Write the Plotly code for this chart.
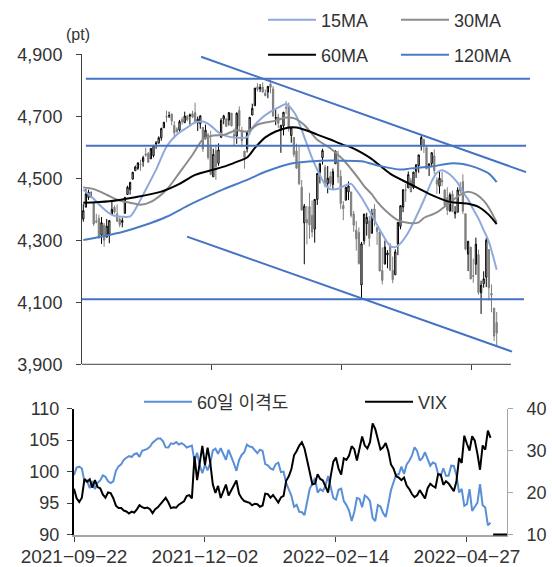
import plotly.graph_objects as go

# ---------------- data ----------------
dates = ["2021-09-22","2021-09-23","2021-09-24","2021-09-27","2021-09-28","2021-09-29","2021-09-30",
"2021-10-01","2021-10-04","2021-10-05","2021-10-06","2021-10-07","2021-10-08","2021-10-11","2021-10-12",
"2021-10-13","2021-10-14","2021-10-15","2021-10-18","2021-10-19","2021-10-20","2021-10-21","2021-10-22",
"2021-10-25","2021-10-26","2021-10-27","2021-10-28","2021-10-29","2021-11-01","2021-11-02","2021-11-03",
"2021-11-04","2021-11-05","2021-11-08","2021-11-09","2021-11-10","2021-11-11","2021-11-12","2021-11-15",
"2021-11-16","2021-11-17","2021-11-18","2021-11-19","2021-11-22","2021-11-23","2021-11-24","2021-11-26",
"2021-11-29","2021-11-30","2021-12-01","2021-12-02","2021-12-03","2021-12-06","2021-12-07","2021-12-08",
"2021-12-09","2021-12-10","2021-12-13","2021-12-14","2021-12-15","2021-12-16","2021-12-17","2021-12-20",
"2021-12-21","2021-12-22","2021-12-23","2021-12-27","2021-12-28","2021-12-29","2021-12-30","2021-12-31",
"2022-01-03","2022-01-04","2022-01-05","2022-01-06","2022-01-07","2022-01-10","2022-01-11","2022-01-12",
"2022-01-13","2022-01-14","2022-01-18","2022-01-19","2022-01-20","2022-01-21","2022-01-24","2022-01-25",
"2022-01-26","2022-01-27","2022-01-28","2022-01-31","2022-02-01","2022-02-02","2022-02-03","2022-02-04",
"2022-02-07","2022-02-08","2022-02-09","2022-02-10","2022-02-11","2022-02-14","2022-02-15","2022-02-16",
"2022-02-17","2022-02-18","2022-02-22","2022-02-23","2022-02-24","2022-02-25","2022-02-28","2022-03-01",
"2022-03-02","2022-03-03","2022-03-04","2022-03-07","2022-03-08","2022-03-09","2022-03-10","2022-03-11",
"2022-03-14","2022-03-15","2022-03-16","2022-03-17","2022-03-18","2022-03-21","2022-03-22","2022-03-23",
"2022-03-24","2022-03-25","2022-03-28","2022-03-29","2022-03-30","2022-03-31","2022-04-01","2022-04-04",
"2022-04-05","2022-04-06","2022-04-07","2022-04-08","2022-04-11","2022-04-12","2022-04-13","2022-04-14",
"2022-04-18","2022-04-19","2022-04-20","2022-04-21","2022-04-22","2022-04-25","2022-04-26","2022-04-27",
"2022-04-28","2022-04-29","2022-05-02","2022-05-03","2022-05-04","2022-05-05","2022-05-06","2022-05-09",
"2022-05-10"]

open_ = [4368.9,4406.8,4438.0,4442.1,4419.5,4362.4,4370.7,4317.2,4348.8,4309.9,4319.6,4383.7,4406.5,4385.4,4368.3,
4358.0,4386.8,4447.7,4463.7,4497.3,4524.4,4532.2,4546.1,4553.7,4578.7,4580.2,4562.8,4572.9,4610.6,4613.3,4630.7,
4662.9,4699.3,4701.5,4707.3,4670.3,4659.4,4655.2,4689.3,4679.4,4701.5,4700.7,4708.4,4712.0,4678.5,4675.8,4664.6,
4628.8,4640.2,4602.8,4504.7,4589.5,4548.4,4632.0,4690.9,4691.0,4687.6,4710.3,4642.0,4636.5,4719.1,4652.5,4587.9,
4595.0,4650.4,4704.0,4734.0,4795.5,4788.6,4794.2,4775.2,4778.1,4804.5,4788.0,4693.4,4697.7,4655.3,4669.1,4728.6,
4733.6,4638.0,4632.2,4588.0,4547.4,4471.4,4356.3,4366.6,4408.4,4380.6,4336.2,4431.8,4519.6,4566.4,4535.4,4482.8,
4505.8,4480.0,4547.0,4553.2,4506.3,4412.6,4429.3,4455.8,4456.1,4384.6,4332.7,4324.9,4155.8,4298.4,4354.2,4363.1,
4322.6,4401.3,4342.1,4327.0,4202.7,4223.1,4252.6,4279.5,4202.8,4188.8,4288.1,4345.1,4407.3,4462.4,4469.1,4493.1,
4470.0,4522.7,4541.1,4602.9,4624.2,4599.0,4540.3,4548.0,4572.5,4494.2,4474.7,4494.2,4462.6,4437.6,4394.3,4449.1,
4385.6,4390.6,4472.3,4489.2,4385.8,4255.3,4278.1,4186.5,4222.6,4253.8,4130.6,4159.8,4181.2,4270.4,4128.2,4081.3,
4035.2]

high = [4416.8,4465.4,4463.1,4457.3,4419.5,4385.6,4382.6,4375.2,4355.5,4369.2,4365.6,4429.0,4412.0,4415.9,4374.9,
4372.9,4439.7,4475.8,4488.8,4520.4,4540.9,4551.4,4559.7,4572.6,4598.5,4584.6,4597.6,4608.1,4620.3,4635.2,4663.5,
4683.0,4718.5,4714.9,4708.5,4684.9,4664.6,4688.5,4697.4,4714.9,4701.5,4708.8,4717.8,4743.8,4699.4,4702.9,4664.6,
4672.9,4646.0,4652.9,4595.5,4608.0,4612.6,4694.0,4705.1,4695.3,4713.6,4710.3,4660.5,4712.6,4732.0,4666.7,4587.9,
4651.1,4697.7,4740.7,4791.5,4807.0,4804.1,4808.9,4786.8,4796.6,4818.6,4797.7,4725.0,4708.0,4673.0,4714.1,4748.8,
4744.1,4665.1,4632.2,4611.6,4602.1,4494.5,4417.4,4411.0,4453.2,4428.7,4432.7,4516.9,4550.5,4595.3,4542.9,4539.7,
4521.9,4531.3,4590.0,4588.9,4526.3,4426.2,4472.8,4489.6,4456.1,4394.6,4362.1,4341.5,4294.7,4385.3,4388.8,4378.5,
4401.5,4416.8,4342.1,4327.0,4276.9,4299.4,4268.3,4291.0,4247.6,4271.1,4358.0,4412.7,4465.4,4481.8,4522.0,4501.1,
4520.6,4546.0,4575.7,4637.3,4627.8,4603.1,4548.7,4583.5,4593.5,4503.9,4521.2,4520.6,4464.3,4471.0,4453.9,4460.5,
4410.3,4471.0,4488.3,4512.9,4385.8,4299.0,4278.1,4240.7,4308.5,4269.7,4169.8,4200.1,4307.7,4270.4,4157.7,4081.3,
4068.8]

low = [4360.2,4406.8,4430.3,4436.2,4346.3,4355.1,4306.2,4288.5,4278.9,4309.9,4290.5,4383.7,4386.2,4360.6,4342.1,
4341.9,4386.8,4447.7,4447.5,4496.4,4524.4,4526.9,4524.0,4537.4,4569.2,4551.7,4562.8,4567.6,4595.1,4613.3,4621.2,
4662.6,4681.3,4694.4,4670.9,4630.9,4648.3,4650.6,4672.9,4679.4,4684.4,4672.8,4694.2,4682.2,4652.7,4659.9,4585.4,
4625.3,4560.0,4510.3,4504.7,4495.1,4540.5,4632.0,4674.5,4666.0,4670.2,4667.6,4606.5,4611.2,4651.9,4600.2,4531.1,
4583.2,4645.5,4704.0,4734.0,4780.0,4778.1,4775.3,4765.8,4758.2,4774.3,4699.4,4671.3,4662.7,4582.2,4638.3,4706.7,
4650.3,4614.8,4568.7,4530.2,4478.0,4395.3,4222.6,4287.1,4304.8,4309.5,4292.5,4414.0,4483.5,4544.3,4470.4,4451.5,
4471.5,4465.4,4547.0,4484.3,4401.4,4364.8,4429.3,4429.7,4373.8,4327.2,4267.1,4221.5,4114.7,4286.8,4315.1,4279.5,
4322.6,4345.6,4285.0,4199.9,4157.9,4223.1,4209.8,4200.5,4161.7,4187.9,4252.0,4335.7,4390.6,4424.3,4469.1,4455.8,
4465.2,4501.1,4517.7,4589.7,4581.3,4530.4,4507.6,4539.2,4514.2,4450.0,4450.3,4474.6,4408.4,4381.3,4392.7,4390.8,
4370.3,4390.6,4452.7,4384.5,4267.6,4200.8,4175.0,4162.9,4188.6,4124.3,4062.5,4147.1,4148.9,4106.0,4067.9,3975.5,
3958.2]

close = [4395.6,4449.0,4455.5,4443.1,4352.6,4359.5,4307.5,4357.0,4300.5,4345.7,4363.6,4399.8,4391.3,4361.2,4350.7,
4363.8,4438.3,4471.4,4486.5,4519.6,4536.2,4549.8,4544.9,4566.5,4574.8,4551.7,4596.4,4605.4,4613.7,4630.7,4660.6,
4680.1,4697.5,4701.7,4685.3,4646.7,4649.3,4682.9,4682.8,4700.9,4688.7,4704.5,4698.0,4682.9,4690.7,4701.5,4594.6,
4655.3,4567.0,4513.0,4577.1,4538.4,4591.7,4686.8,4701.2,4667.5,4712.0,4669.0,4634.1,4709.9,4668.7,4620.6,4568.0,
4649.2,4696.6,4725.8,4791.2,4786.4,4793.1,4778.7,4766.2,4796.6,4793.5,4700.6,4696.1,4677.0,4670.3,4713.1,4726.4,
4659.0,4662.9,4577.1,4532.8,4482.7,4397.9,4410.1,4356.5,4349.9,4326.5,4431.9,4515.6,4546.5,4589.4,4477.4,4500.5,
4483.9,4521.5,4587.2,4504.1,4418.6,4401.7,4471.1,4475.0,4380.3,4348.9,4304.8,4225.5,4288.7,4384.7,4373.9,4306.3,
4386.5,4363.5,4328.9,4201.1,4170.7,4277.9,4259.5,4204.3,4173.1,4262.5,4357.9,4411.7,4463.1,4461.2,4511.6,4456.2,
4520.2,4543.1,4575.5,4631.6,4602.5,4530.4,4545.9,4582.6,4525.1,4481.2,4500.2,4488.3,4412.5,4397.5,4446.6,4392.6,
4391.7,4462.2,4459.5,4393.7,4271.8,4296.1,4175.2,4184.0,4287.5,4131.9,4155.4,4175.5,4300.2,4146.9,4123.3,3991.2,
4001.1]

# moving averages (trading-day index, value)
ma15_idx = [0,3,7,11,15,18,21,24,28,32,36,40,43,46,49,52,55,59,63,65,68,72,75,78,80,82,84,86,88,91,93,95,98,101,
            103,105,107,111,115,118,120,122,125,128,131,134,136,138,141,144,146,148,150,152,154,156,159]
ma15_val = [4463,4442,4408,4382,4376,4377,4415,4463,4528,4602,4641,4664,4680,4683,4670,4648,4636,4631,4633,4662,
            4690,4715,4728,4740,4725,4700,4656,4610,4565,4510,4480,4465,4466,4478,4482,4462,4438,4380,4320,4282,
            4278,4290,4325,4375,4430,4490,4518,4526,4512,4485,4455,4432,4400,4370,4333,4295,4205]

ma30_idx = [0,4,9,13,18,22,26,32,37,42,46,50,54,59,63,67,70,74,78,81,85,90,95,100,103,106,108,111,113,116,121,
            126,129,131,136,141,146,148,151,154,156,159]
ma30_val = [4470,4465,4447,4431,4421,4415,4424,4463,4518,4576,4625,4638,4640,4655,4651,4673,4680,4686,4696,4694,
            4672,4624,4597,4560,4530,4498,4475,4448,4425,4398,4365,4355,4358,4372,4390,4422,4452,4457,4449,4428,
            4405,4358]

ma60_idx = [0,10,20,30,37,43,50,55,60,63,66,70,74,79,82,86,90,95,100,103,107,111,118,126,133,141,148,152,156,159]
ma60_val = [4421,4426,4439,4457,4482,4511,4528,4540,4556,4567,4598,4632,4651,4664,4664,4654,4641,4625,4608,4600,
            4583,4562,4515,4480,4450,4424,4418,4408,4382,4352]

ma120_idx = [0,15,24,32,41,50,54,63,70,80,90,99,107,114,122,126,134,141,146,149,153,156,159]
ma120_val = [4301,4327,4350,4376,4415,4450,4465,4495,4521,4548,4556,4557,4555,4540,4528,4532,4538,4548,4546,4540,
             4528,4515,4488]

# support / resistance levels and channel lines (index, value)
level_vals = [4821, 4605, 4110]
level_x0 = [1.0, 1.0, -0.5]
level_x1 = [171.8, 170.3, 169.5]
upper_trend_x = [45.3, 170.3]
upper_trend_y = [4892, 4520]
lower_trend_x = [39.9, 164.9]
lower_trend_y = [4312, 3941]

# 60-day disparity and VIX
disparity = [99.43,100.62,100.76,100.47,98.41,98.55,97.37,98.47,97.19,98.20,98.59,99.38,99.16,98.45,98.18,98.45,
100.10,100.82,101.13,101.85,102.19,102.45,102.30,102.75,102.89,102.33,103.29,103.45,103.60,103.94,104.57,104.92,
105.23,105.24,104.79,103.84,103.82,104.48,104.37,104.66,104.27,104.51,104.26,103.81,103.93,104.11,101.69,102.98,
100.97,99.72,101.08,100.18,101.30,103.34,103.61,102.81,103.72,102.70,101.86,103.45,102.47,101.34,100.10,101.80,
102.63,103.06,104.27,103.96,103.89,103.37,102.90,103.45,103.27,101.17,100.97,100.50,100.30,101.17,101.39,99.89,
99.98,98.14,97.19,96.16,94.40,94.71,93.61,93.53,93.09,95.43,97.30,98.02,99.00,96.64,97.20,96.89,97.76,99.27,97.57,
95.80,95.52,97.11,97.27,95.29,94.67,93.79,92.13,93.58,95.79,95.68,94.32,96.20,95.87,95.28,92.64,92.13,94.67,94.44,
93.39,92.77,94.83,97.03,98.31,99.54,99.57,100.78,99.62,101.13,101.71,102.51,103.85,103.27,101.73,102.15,103.05,
101.83,100.92,101.42,101.23,99.59,99.33,100.51,99.31,99.31,100.92,100.88,99.41,96.67,97.24,94.56,94.81,97.21,
93.74,94.41,95.01,97.99,94.63,94.29,91.46,91.87]

vix = [20.87,18.63,17.75,18.76,23.25,22.56,23.14,21.15,22.96,21.30,21.00,19.54,18.77,20.00,19.85,18.64,16.86,16.30,
16.30,15.70,15.49,15.01,15.43,15.24,15.98,16.98,16.53,16.26,16.41,16.03,15.10,16.03,16.48,17.22,17.78,18.73,17.66,
16.29,16.49,16.37,17.11,17.59,17.91,19.17,19.38,18.58,28.62,22.96,27.19,31.12,26.50,30.67,27.18,21.89,19.90,21.58,
18.69,20.31,21.89,19.29,20.57,21.57,22.87,19.70,18.63,17.96,17.68,17.54,16.95,17.33,17.22,16.60,16.91,19.73,19.61,
18.76,19.40,18.41,17.62,18.83,19.19,22.79,23.85,25.59,28.85,29.90,31.16,31.96,30.49,27.66,24.83,21.96,22.09,24.35,
23.22,22.86,21.44,19.96,23.91,27.36,28.33,25.70,24.29,28.11,27.75,28.81,31.02,30.32,27.59,30.15,33.32,31.17,30.48,
31.98,36.45,35.13,32.45,30.23,30.75,31.77,29.83,26.67,25.67,23.87,23.53,22.94,23.57,21.67,20.81,19.63,18.90,19.33,
20.56,19.63,18.57,21.03,22.10,21.55,21.16,24.37,24.26,21.82,22.70,22.17,21.37,20.32,22.68,28.21,27.02,33.52,31.60,
29.99,33.40,32.34,29.25,25.42,31.20,30.19,34.75,32.99]

xtick_idx = [0, 50, 100, 150]
xtick_text = [dates[i].replace("-", "\u2212") for i in xtick_idx]
top_yticks = [3900, 4100, 4300, 4500, 4700, 4900]

# ---------------- figure ----------------
W, H = 552, 567
FONT = "Liberation Sans, Arial, Noto Sans CJK KR, sans-serif"
C15 = "#8EA9DB"
C30 = "#8C8C8C"
C60 = "#000000"
C120 = "#4A7CC6"
CLINE = "#4472C4"
CDISP = "#5A8FD8"

idx = list(range(len(dates)))

fig = go.Figure()
fig.add_trace(go.Candlestick(
    x=idx, open=open_, high=high, low=low, close=close,
    increasing=dict(line=dict(color="#000000", width=1), fillcolor="#FFFFFF"),
    decreasing=dict(line=dict(color="#7F7F7F", width=1), fillcolor="#7F7F7F"),
    showlegend=False, hoverinfo="skip", xaxis="x", yaxis="y"))

def ma_trace(xs, ys, name, color, legend):
    return go.Scatter(x=xs, y=ys, mode="lines", name=name, legend=legend,
                      line=dict(color=color, width=2, shape="spline", smoothing=0.8),
                      xaxis="x", yaxis="y")

fig.add_trace(ma_trace(ma15_idx, ma15_val, "15MA", C15, "legend"))
fig.add_trace(ma_trace(ma30_idx, ma30_val, "30MA", C30, "legend"))
fig.add_trace(ma_trace(ma60_idx, ma60_val, "60MA", C60, "legend2"))
fig.add_trace(ma_trace(ma120_idx, ma120_val, "120MA", C120, "legend2"))

for v, a, b in zip(level_vals, level_x0, level_x1):
    fig.add_trace(go.Scatter(x=[a, b], y=[v, v], mode="lines", showlegend=False,
                             line=dict(color=CLINE, width=2), xaxis="x", yaxis="y", hoverinfo="skip"))
fig.add_trace(go.Scatter(x=upper_trend_x, y=upper_trend_y, mode="lines", showlegend=False,
                         line=dict(color=CLINE, width=2), xaxis="x", yaxis="y", hoverinfo="skip"))
fig.add_trace(go.Scatter(x=lower_trend_x, y=lower_trend_y, mode="lines", showlegend=False,
                         line=dict(color=CLINE, width=2), xaxis="x", yaxis="y", hoverinfo="skip"))

fig.add_trace(go.Scatter(x=idx, y=disparity, mode="lines", name="60일 이격도", legend="legend3",
                         line=dict(color=CDISP, width=2), xaxis="x2", yaxis="y2"))
fig.add_trace(go.Scatter(x=idx, y=vix, mode="lines", name="VIX", legend="legend3",
                         line=dict(color="#000000", width=2), xaxis="x2", yaxis="y3"))

def px(x):
    return x / W

def py(y):
    return 1 - y / H

tick_font = dict(family=FONT, size=18, color="#333333")
xtick_font = dict(family=FONT, size=19, color="#333333")

fig.update_layout(
    template="none",
    width=W, height=H, margin=dict(l=0, r=0, t=0, b=0, autoexpand=False),
    paper_bgcolor="white", plot_bgcolor="white",
    font=dict(family=FONT, size=18, color="#333333"),
    xaxis=dict(domain=[px(82), px(531)], range=[-0.5, 172.2], anchor="y", automargin=False,
               showline=False, showgrid=False, zeroline=False,
               ticks="outside", ticklen=5, tickcolor="#404040", tickwidth=1,
               tickvals=[49.5, 99.5, 149.5], showticklabels=False,
               rangeslider=dict(visible=False)),
    yaxis=dict(domain=[py(364.3), py(54.3)], range=[3900, 4900], anchor="x", automargin=False,
               showline=True, linecolor="#404040", linewidth=1, showgrid=False, zeroline=False,
               ticks="outside", ticklen=5, tickcolor="#404040",
               tickvals=top_yticks, tickformat=",d", tickfont=tick_font, ticklabelstandoff=10),
    xaxis2=dict(domain=[px(74), px(507)], range=[0, 165.3], anchor="y2", automargin=False,
                showline=True, linecolor="#A6A6A6", linewidth=2, showgrid=False, zeroline=False,
                ticks="outside", ticklen=5, tickcolor="#404040", tickwidth=1,
                tickvals=xtick_idx, ticktext=xtick_text, tickfont=xtick_font, ticklabelstandoff=-1),
    yaxis2=dict(domain=[py(534.5), py(408.5)], range=[90, 110], anchor="x2", automargin=False,
                showline=True, linecolor="#000000", linewidth=2, showgrid=False, zeroline=False,
                ticks="outside", ticklen=5, tickcolor="#404040", dtick=5, tick0=90,
                tickfont=tick_font, ticklabelstandoff=4),
    yaxis3=dict(range=[10, 40], overlaying="y2", side="right", anchor="x2", automargin=False,
                showline=True, linecolor="#A6A6A6", linewidth=1, showgrid=False, zeroline=False,
                ticks="outside", ticklen=5, tickcolor="#A6A6A6", dtick=10, tick0=10,
                tickfont=tick_font, ticklabelstandoff=10),
    legend=dict(orientation="h", x=px(263), xanchor="left", y=py(20), yanchor="middle",
                itemwidth=48, entrywidth=70, entrywidthmode="pixels",
                font=dict(family=FONT, size=18, color="#333333"), bgcolor="rgba(0,0,0,0)"),
    legend2=dict(orientation="h", x=px(263), xanchor="left", y=py(55), yanchor="middle",
                 itemwidth=48, entrywidth=70, entrywidthmode="pixels",
                 font=dict(family=FONT, size=18, color="#333333"), bgcolor="rgba(0,0,0,0)"),
    legend3=dict(orientation="h", x=px(139), xanchor="left", y=py(402), yanchor="middle",
                 itemwidth=48, entrywidth=158, entrywidthmode="pixels",
                 font=dict(family=FONT, size=18, color="#333333"), bgcolor="rgba(0,0,0,0)"),
    annotations=[dict(text="(pt)", x=px(78), y=py(34), xref="paper", yref="paper",
                      xanchor="center", yanchor="middle", showarrow=False,
                      font=dict(family=FONT, size=16, color="#333333"))],
    shapes=[
        dict(type="line", xref="x", yref="paper", x0=-0.5, x1=164.5, y0=py(364.3), y1=py(364.3),
             line=dict(color="#404040", width=1)),
        dict(type="line", xref="x2", yref="paper", x0=160, x1=165.3, y0=py(534.5), y1=py(534.5),
             line=dict(color="#000000", width=2)),
    ],
)

fig.write_html("out.html")
